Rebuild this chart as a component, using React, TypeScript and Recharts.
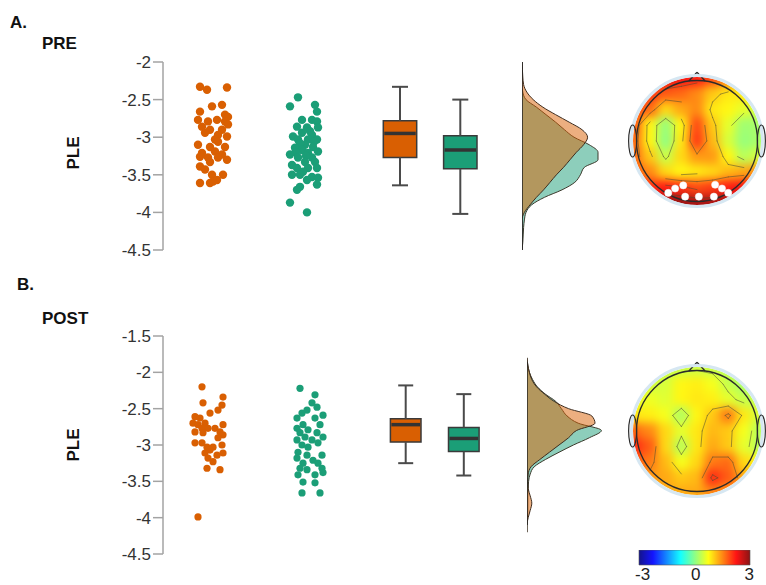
import React from "react";
import {
  Area,
  ComposedChart,
  ReferenceArea,
  ReferenceDot,
  ReferenceLine,
  Scatter,
  ScatterChart,
  XAxis,
  YAxis,
} from "recharts";

const FONT = '"Liberation Sans", Arial, Helvetica, sans-serif';
const ORANGE = "#d95f02";
const GREEN = "#1b9e77";
const INK = "#3a3a3a";

// ---------- PRE ----------
const preTicks = [-4.5, -4, -3.5, -3, -2.5, -2];
const preOrangePLE = [
  -2.33, -2.37, -2.34, -2.59, -2.57, -2.66, -2.7, -2.73, -2.77, -2.79,
  -2.77, -2.79, -2.83, -2.86, -2.9, -2.9, -2.94, -2.97, -2.99, -3.03,
  -3.1, -3.06, -3.13, -3.13, -3.21, -3.19, -3.23, -3.26, -3.27, -3.3,
  -3.27, -3.33, -3.39, -3.43, -3.5, -3.5, -3.57, -3.61, -3.61, -3.59,
];
const preOrangeJitter = [
  -13, -6, 14, -1, 9, -13, 12, 15, -15, -5,
  4, 12, 15, -11, -3, 9, -8, 5, 14, 2,
  -15, 5, -3, 12, -11, 2, 9, -13, -5, 14,
  5, -3, -13, -8, -1, 10, 4, -13, -3, 0,
];
const preGreenPLE = [
  -2.47, -2.59, -2.57, -2.66, -2.77, -2.77, -2.79, -2.86, -2.87, -2.87,
  -2.92, -2.94, -2.97, -2.99, -3.03, -3.03, -3.03, -3.06, -3.1, -3.08,
  -3.13, -3.14, -3.17, -3.19, -3.21, -3.2, -3.23, -3.27, -3.27, -3.25,
  -3.33, -3.33, -3.37, -3.41, -3.41, -3.41, -3.46, -3.5, -3.5, -3.53,
  -3.54, -3.57, -3.63, -3.66, -3.7, -3.87, -4.0,
];
const preGreenJitter = [
  -7, -15, 10, 12, -3, 7, 12, -8, 2, 13,
  5, -3, 7, -12, -7, 3, 12, 9, 0, -5,
  8, -10, -3, 13, 3, -9, -15, -7, 7, 1,
  10, 0, -13, -8, 3, 12, -2, -13, -5, 7,
  13, 2, 12, -5, -8, -15, 2,
];
// [lower whisker, Q1, median, Q3, upper whisker]
const preOrangeBox = [-3.64, -3.27, -2.95, -2.78, -2.33];
const preGreenBox = [-4.02, -3.42, -3.17, -2.98, -2.5];
const preDensityPLE = [
  -2.0, -2.1, -2.2, -2.3, -2.4, -2.5, -2.6, -2.7, -2.8, -2.9, -3.0, -3.1, -3.2,
  -3.3, -3.4, -3.5, -3.6, -3.7, -3.8, -3.9, -4.0, -4.1, -4.2, -4.3, -4.4, -4.5,
];
const preOrangeDensity = [
  0, 0.005, 0.01, 0.02, 0.06, 0.14, 0.26, 0.42, 0.59, 0.75, 0.82, 0.77, 0.68,
  0.6, 0.52, 0.43, 0.35, 0.27, 0.18, 0.1, 0.03, 0, 0, 0, 0, 0,
];
const preGreenDensity = [
  0, 0, 0, 0, 0.01, 0.05, 0.18, 0.3, 0.42, 0.53, 0.65, 0.84, 0.95,
  0.95, 0.78, 0.73, 0.66, 0.5, 0.28, 0.12, 0.05, 0.03, 0.02, 0.015, 0.01, 0,
];

// ---------- POST ----------
const postTicks = [-4.5, -4, -3.5, -3, -2.5, -2, -1.5];
const postOrangePLE = [
  -2.2, -2.42, -2.34, -2.45, -2.52, -2.56, -2.61, -2.63, -2.7, -2.72,
  -2.7, -2.72, -2.77, -2.77, -2.77, -2.82, -2.82, -2.83, -2.86, -2.9,
  -2.97, -2.97, -3.03, -3.03, -3.0, -3.07, -3.11, -3.11, -3.14, -3.18,
  -3.23, -3.32, -3.34, -3.99,
];
const postOrangeJitter = [
  -6, -5, 15, 14, 10, 2, -13, -8, -15, -10,
  -3, 15, -6, 0, 7, -13, 12, -5, 15, 10,
  -13, -6, -1, 5, 14, 2, -3, 15, 9, 0,
  5, -1, 12, -10,
];
const postGreenPLE = [
  -2.22, -2.31, -2.42, -2.48, -2.52, -2.56, -2.59, -2.63, -2.63, -2.72,
  -2.72, -2.77, -2.79, -2.83, -2.83, -2.89, -2.89, -2.93, -2.93, -3.0,
  -2.97, -3.03, -3.1, -3.14, -3.14, -3.18, -3.21, -3.25, -3.25, -3.32,
  -3.34, -3.32, -3.41, -3.41, -3.38, -3.51, -3.52, -3.66, -3.66,
];
const postGreenJitter = [
  -10, 5, 2, 7, -3, -8, 13, -13, 5, -7,
  10, -13, -2, -10, 7, -5, 13, -13, 2, -8,
  8, -2, -12, -3, 12, -13, 3, -7, 8, -10,
  -3, 12, -12, 5, 13, -7, 5, -8, 10,
];
const postOrangeBox = [-3.25, -2.96, -2.72, -2.64, -2.18];
const postGreenBox = [-3.42, -3.09, -2.91, -2.76, -2.3];
const postDensityPLE = [
  -1.8, -1.9, -2.0, -2.1, -2.2, -2.3, -2.4, -2.5, -2.6, -2.7, -2.8, -2.9, -3.0,
  -3.1, -3.2, -3.3, -3.4, -3.5, -3.6, -3.7, -3.8, -3.9, -4.0, -4.1, -4.2,
];
const postOrangeDensity = [
  0, 0.01, 0.03, 0.06, 0.12, 0.22, 0.34, 0.52, 0.81, 0.85, 0.62, 0.52, 0.4,
  0.28, 0.16, 0.05, 0.015, 0.01, 0.015, 0.04, 0.06, 0.04, 0.015, 0, 0,
];
const postGreenDensity = [
  0, 0.01, 0.03, 0.07, 0.13, 0.23, 0.36, 0.43, 0.5, 0.64, 0.93, 0.78, 0.58,
  0.4, 0.23, 0.09, 0.04, 0.02, 0.015, 0.01, 0.01, 0.01, 0.005, 0, 0,
];

// ---------- scalp maps (rows front to back, columns left to right) ----------
const gridPos = [-1, -0.75, -0.5, -0.25, 0, 0.25, 0.5, 0.75, 1];
const topoPre = [
  [2.3, 2.4, 2.4, 2.3, 2.2, 1.9, 1.6, 1.5, 1.6],
  [2.1, 2.0, 1.8, 1.7, 1.5, 1.1, 0.9, 0.9, 1.2],
  [1.9, 1.7, 1.0, 1.3, 1.5, 0.9, 0.8, 0.6, 0.4],
  [1.8, 0.8, 0.1, 0.8, 1.9, 1.1, 0.6, 0.15, 0.2],
  [1.7, 0.8, 0.05, 0.9, 2.0, 1.2, 0.5, 0.1, 0.2],
  [1.7, 1.1, 0.4, 1.0, 1.4, 1.4, 0.8, 0.3, 0.5],
  [1.8, 1.5, 1.0, 0.8, 0.9, 1.0, 1.2, 1.3, 1.5],
  [2.2, 2.1, 2.2, 2.1, 1.9, 2.0, 2.2, 2.3, 2.3],
  [2.7, 2.8, 2.9, 2.9, 2.8, 2.8, 2.9, 2.8, 2.7],
];
const topoPost = [
  [0.3, 0.3, 0.35, 0.4, 0.45, 0.4, 0.3, 0.25, 0.25],
  [0.45, 0.45, 0.5, 0.8, 0.85, 0.7, 0.4, 0.2, 0.3],
  [0.6, 0.65, 0.55, 0.8, 0.9, 0.85, 0.6, 0.4, 0.35],
  [0.9, 0.85, 0.7, 0.25, 0.8, 1.1, 1.6, 0.9, 0.5],
  [1.7, 1.5, 1.0, 0.6, 0.9, 1.2, 1.1, 0.7, 0.3],
  [2.1, 1.8, 1.0, 0.3, 0.9, 1.3, 1.1, 0.6, 0.3],
  [1.8, 1.6, 1.2, 0.7, 1.0, 1.6, 1.7, 1.0, 0.8],
  [1.5, 1.4, 1.3, 1.1, 1.2, 2.1, 1.8, 1.3, 1.1],
  [1.4, 1.4, 1.3, 1.3, 1.3, 1.5, 1.4, 1.3, 1.2],
];
const contourLevels = [0.5, 1.0, 1.5, 2.0, 2.5];
// significant occipital channels (x, y in head radii)
const sigChanX = [-0.46, -0.35, -0.22, -0.19, 0.03, 0.27, 0.29, 0.4, 0.5];
const sigChanY = [0.83, 0.76, 0.71, 0.89, 0.89, 0.89, 0.7, 0.76, 0.83];
const cbTicks = [-3, 0, 3];

function jet(v: number) {
  const t = Math.min(1, Math.max(0, (v + 3) / 6));
  const ch = (k: number) => {
    const c = Math.min(1, Math.max(0, 1.5 - Math.abs(4 * t - k)));
    return Math.round(c * 255 * 0.92 + 255 * 0.08);
  };
  return `rgb(${ch(3)},${ch(2)},${ch(1)})`;
}

type Pt = { x: number; y: number };

// marching squares over the electrode grid, one segment per crossing pair
function isoSegments(grid: number[][], levels: number[]) {
  const segs: [Pt, Pt][] = [];
  const n = gridPos.length;
  for (const L of levels) {
    for (let r = 0; r < n - 1; r++) {
      for (let c = 0; c < n - 1; c++) {
        const v = [grid[r][c], grid[r][c + 1], grid[r + 1][c + 1], grid[r + 1][c]];
        const p: Pt[] = [
          { x: gridPos[c], y: gridPos[r] },
          { x: gridPos[c + 1], y: gridPos[r] },
          { x: gridPos[c + 1], y: gridPos[r + 1] },
          { x: gridPos[c], y: gridPos[r + 1] },
        ];
        const hits: Pt[] = [];
        for (let e = 0; e < 4; e++) {
          const a = e;
          const b = (e + 1) % 4;
          if ((v[a] - L) * (v[b] - L) < 0) {
            const t = (L - v[a]) / (v[b] - v[a]);
            hits.push({ x: p[a].x + t * (p[b].x - p[a].x), y: p[a].y + t * (p[b].y - p[a].y) });
          }
        }
        if (hits.length === 2) segs.push([hits[0], hits[1]]);
        if (hits.length === 4) {
          const mid = (v[0] + v[1] + v[2] + v[3]) / 4;
          if ((mid - L) * (v[0] - L) > 0) {
            segs.push([hits[0], hits[1]], [hits[2], hits[3]]);
          } else {
            segs.push([hits[0], hits[3]], [hits[1], hits[2]]);
          }
        }
      }
    }
  }
  return segs.filter(([a, b]) => Math.hypot(a.x, a.y) < 1.0 && Math.hypot(b.x, b.y) < 1.0);
}

const cloud = (vals: number[], jit: number[], center: number) =>
  vals.map((y, i) => ({ x: center + jit[i], y }));

type Cloud = { center: number; vals: number[]; jit: number[]; color: string };
type Box = { center: number; stats: number[]; color: string };

function Panel(props: {
  top: number;
  height: number;
  mTop: number;
  mBottom: number;
  domain: [number, number];
  ticks: number[];
  clouds: Cloud[];
  boxes: Box[];
  boxHalf: number;
  capHalf: number;
  dotR: number;
  densLeft: number;
  densPLE: number[];
  densOrange: number[];
  densGreen: number[];
  densSpan: [number, number];
}) {
  const { top, height, mTop, mBottom, domain, boxHalf, capHalf } = props;
  const densRows = props.densPLE.map((v, i) => ({
    v,
    o: props.densOrange[i],
    g: props.densGreen[i],
  }));
  return (
    <>
      <div style={{ position: "absolute", left: 0, top, width: 640, height }}>
        <ComposedChart
          width={640}
          height={height}
          margin={{ top: mTop, right: 0, bottom: mBottom, left: 0 }}
        >
          <XAxis type="number" dataKey="x" domain={[0, 477]} hide allowDataOverflow />
          <YAxis
            type="number"
            dataKey="y"
            domain={domain}
            ticks={props.ticks}
            interval={0}
            width={163}
            tickSize={10}
            tickMargin={2}
            allowDataOverflow
            tick={{ fill: "#333", fontSize: 17, fontFamily: FONT }}
            axisLine={{ stroke: "#a3a3a3", strokeWidth: 1.5 }}
            tickLine={{ stroke: "#a3a3a3", strokeWidth: 1.5 }}
          />
          {props.boxes.map((b, i) => (
            <ReferenceLine
              key={`wu${i}`}
              segment={[{ x: b.center, y: b.stats[3] }, { x: b.center, y: b.stats[4] }]}
              stroke="#4a4a4a"
              strokeWidth={2}
            />
          ))}
          {props.boxes.map((b, i) => (
            <ReferenceLine
              key={`wl${i}`}
              segment={[{ x: b.center, y: b.stats[1] }, { x: b.center, y: b.stats[0] }]}
              stroke="#4a4a4a"
              strokeWidth={2}
            />
          ))}
          {props.boxes.map((b, i) => (
            <ReferenceLine
              key={`cu${i}`}
              segment={[{ x: b.center - capHalf, y: b.stats[4] }, { x: b.center + capHalf, y: b.stats[4] }]}
              stroke="#4a4a4a"
              strokeWidth={2}
            />
          ))}
          {props.boxes.map((b, i) => (
            <ReferenceLine
              key={`cl${i}`}
              segment={[{ x: b.center - capHalf, y: b.stats[0] }, { x: b.center + capHalf, y: b.stats[0] }]}
              stroke="#4a4a4a"
              strokeWidth={2}
            />
          ))}
          {props.boxes.map((b, i) => (
            <ReferenceArea
              key={`bx${i}`}
              x1={b.center - boxHalf}
              x2={b.center + boxHalf}
              y1={b.stats[1]}
              y2={b.stats[3]}
              fill={b.color}
              fillOpacity={1}
              stroke={INK}
              strokeWidth={1.5}
            />
          ))}
          {props.boxes.map((b, i) => (
            <ReferenceLine
              key={`md${i}`}
              segment={[{ x: b.center - boxHalf + 1, y: b.stats[2] }, { x: b.center + boxHalf - 1, y: b.stats[2] }]}
              stroke="#333"
              strokeWidth={3.5}
            />
          ))}
          {props.clouds.map((c, i) => (
            <Scatter
              key={`sc${i}`}
              data={cloud(c.vals, c.jit, c.center)}
              dataKey="y"
              fill={c.color}
              isAnimationActive={false}
              shape={(p: any) => <circle cx={p.cx} cy={p.cy} r={props.dotR} fill={c.color} />}
            />
          ))}
        </ComposedChart>
      </div>
      <div style={{ position: "absolute", left: props.densLeft, top, width: 100, height }}>
        <ComposedChart
          layout="vertical"
          width={100}
          height={height}
          data={densRows}
          margin={{ top: mTop, right: 20, bottom: mBottom, left: 0 }}
        >
          <XAxis type="number" domain={[0, 1]} hide />
          <YAxis type="number" dataKey="v" domain={domain} reversed hide allowDataOverflow />
          <Area
            dataKey="g"
            type="monotone"
            fill={GREEN}
            fillOpacity={0.5}
            stroke="#3b3a2c"
            strokeWidth={1}
            isAnimationActive={false}
          />
          <Area
            dataKey="o"
            type="monotone"
            fill={ORANGE}
            fillOpacity={0.5}
            stroke="#3e2c1e"
            strokeWidth={1}
            isAnimationActive={false}
          />
          <ReferenceLine
            segment={[{ x: 0, y: props.densSpan[0] }, { x: 0, y: props.densSpan[1] }]}
            stroke="#222"
            strokeWidth={1.5}
          />
        </ComposedChart>
      </div>
    </>
  );
}

const cellShape = (size: number) => (p: any) => (
  <rect
    x={p.cx - size / 2}
    y={p.cy - size / 2}
    width={size}
    height={size}
    fill={jet(p.payload.val)}
  />
);

function Topo({ left, top, grid, chanX, chanY }: {
  left: number;
  top: number;
  grid: number[][];
  chanX?: number[];
  chanY?: number[];
}) {
  const cells = grid.flatMap((row, r) =>
    row.map((val, c) => ({ x: gridPos[c], y: gridPos[r], val }))
  );
  const rim = cells.filter(
    (d) => Math.abs(d.x) === 1 || Math.abs(d.y) === 1
  );
  const chans = (chanX ?? []).map((x, i) => ({ x, y: chanY![i] }));
  const ears = [{ x: -1.03, y: 0 }, { x: 1.03, y: 0 }];
  const isolines = isoSegments(grid, contourLevels);
  const axes = (
    <>
      <XAxis type="number" dataKey="x" domain={[-1.2, 1.2]} hide />
      <YAxis type="number" dataKey="y" domain={[-1.2, 1.2]} reversed hide />
    </>
  );
  return (
    <>
      <div
        style={{
          position: "absolute",
          left,
          top,
          width: 150,
          height: 150,
          filter: "blur(5px)",
          clipPath: "circle(64px at 75px 75px)",
        }}
      >
        <ScatterChart width={150} height={150} margin={{ top: 0, right: 0, bottom: 0, left: 0 }}>
          {axes}
          <Scatter data={rim} isAnimationActive={false} shape={cellShape(44)} />
          <Scatter data={cells} isAnimationActive={false} shape={cellShape(16.5)} />
        </ScatterChart>
      </div>
      <div style={{ position: "absolute", left, top, width: 150, height: 150 }}>
        <ScatterChart width={150} height={150} margin={{ top: 0, right: 0, bottom: 0, left: 0 }}>
          {axes}
          {isolines.map((s, i) => (
            <ReferenceLine
              key={`iso${i}`}
              segment={s}
              stroke="#4d4d33"
              strokeOpacity={0.6}
              strokeWidth={0.9}
              strokeLinecap="round"
            />
          ))}
          <ReferenceDot x={0} y={0} r={65.5} fill="none" stroke="#d6e7f2" strokeWidth={3} />
          <ReferenceDot x={0} y={0} r={60.5} fill="none" stroke="#2b2b2b" strokeWidth={1.3} />
          <ReferenceLine segment={[{ x: -0.13, y: -0.96 }, { x: 0, y: -1.1 }]} stroke="#2b2b2b" strokeWidth={1.2} />
          <ReferenceLine segment={[{ x: 0, y: -1.1 }, { x: 0.13, y: -0.96 }]} stroke="#2b2b2b" strokeWidth={1.2} />
          <Scatter
            data={ears}
            isAnimationActive={false}
            shape={(p: any) => (
              <ellipse cx={p.cx} cy={p.cy} rx={4} ry={16} fill="none" stroke="#2b2b2b" strokeWidth={1.2} />
            )}
          />
          <Scatter
            data={chans}
            isAnimationActive={false}
            shape={(p: any) => (
              <circle cx={p.cx} cy={p.cy} r={3.6} fill="#fff" stroke="#f4f4f4" strokeWidth={0.5} />
            )}
          />
        </ScatterChart>
      </div>
    </>
  );
}

function ColorBar() {
  const stops = [0, 0.125, 0.25, 0.375, 0.5, 0.625, 0.75, 0.875, 1];
  return (
    <div style={{ position: "absolute", left: 624, top: 550, width: 142, height: 35 }}>
      <ComposedChart
        width={142}
        height={35}
        data={cbTicks.map((x) => ({ x, y: 0.5 }))}
        margin={{ top: 0, right: 16, bottom: 0, left: 15 }}
      >
        <defs>
          <linearGradient id="jetBar" x1="0" y1="0" x2="1" y2="0">
            {stops.map((o) => (
              <stop key={o} offset={o} stopColor={jet(-3 + 6 * o)} />
            ))}
          </linearGradient>
        </defs>
        <XAxis
          type="number"
          dataKey="x"
          domain={[-3.2, 3.05]}
          ticks={cbTicks}
          interval={0}
          height={20}
          tickSize={0}
          tickMargin={3}
          axisLine={false}
          tickLine={false}
          allowDataOverflow
          tick={{ fill: "#222", fontSize: 17, fontFamily: FONT }}
        />
        <YAxis type="number" dataKey="y" hide domain={[0, 1]} />
        <ReferenceArea
          x1={-3.2}
          x2={3.05}
          y1={0}
          y2={1}
          fill="url(#jetBar)"
          fillOpacity={1}
          stroke="#555"
          strokeWidth={0.6}
          ifOverflow="visible"
        />
      </ComposedChart>
    </div>
  );
}

const textStyle = (left: number, top: number): React.CSSProperties => ({
  position: "absolute",
  left,
  top,
  fontFamily: FONT,
  fontWeight: "bold",
  fontSize: 17,
  lineHeight: "17px",
  color: "#111",
  whiteSpace: "nowrap",
});

const yTitle = (cx: number, cy: number): React.CSSProperties => ({
  ...textStyle(cx - 30, cy - 10),
  width: 60,
  lineHeight: "20px",
  textAlign: "center",
  transform: "rotate(-90deg)",
});

export default function App() {
  return (
    <div
      style={{
        position: "absolute",
        left: 0,
        top: 0,
        width: 766,
        height: 585,
        background: "#fff",
        overflow: "hidden",
      }}
    >
      <div style={textStyle(10, 14)}>A.</div>
      <div style={textStyle(42, 35)}>PRE</div>
      <div style={yTitle(74, 153)}>PLE</div>
      <Panel
        top={0}
        height={270}
        mTop={62}
        mBottom={20}
        domain={[-4.5, -2]}
        ticks={preTicks}
        clouds={[
          { center: 50, vals: preOrangePLE, jit: preOrangeJitter, color: ORANGE },
          { center: 142, vals: preGreenPLE, jit: preGreenJitter, color: GREEN },
        ]}
        boxes={[
          { center: 237, stats: preOrangeBox, color: ORANGE },
          { center: 297.3, stats: preGreenBox, color: GREEN },
        ]}
        boxHalf={16.7}
        capHalf={8}
        dotR={4.2}
        densLeft={522}
        densPLE={preDensityPLE}
        densOrange={preOrangeDensity}
        densGreen={preGreenDensity}
        densSpan={[-2, -4.5]}
      />
      <Topo left={622} top={66} grid={topoPre} chanX={sigChanX} chanY={sigChanY} />

      <div style={textStyle(17, 276)}>B.</div>
      <div style={textStyle(42, 310)}>POST</div>
      <div style={yTitle(74, 445)}>PLE</div>
      <Panel
        top={270}
        height={300}
        mTop={66}
        mBottom={16}
        domain={[-4.5, -1.5]}
        ticks={postTicks}
        clouds={[
          { center: 45, vals: postOrangePLE, jit: postOrangeJitter, color: ORANGE },
          { center: 147, vals: postGreenPLE, jit: postGreenJitter, color: GREEN },
        ]}
        boxes={[
          { center: 242.7, stats: postOrangeBox, color: ORANGE },
          { center: 300.8, stats: postGreenBox, color: GREEN },
        ]}
        boxHalf={15.3}
        capHalf={7.5}
        dotR={3.6}
        densLeft={527}
        densPLE={postDensityPLE}
        densOrange={postOrangeDensity}
        densGreen={postGreenDensity}
        densSpan={[-1.85, -4.1]}
      />
      <Topo left={622} top={356} grid={topoPost} />
      <ColorBar />
    </div>
  );
}
